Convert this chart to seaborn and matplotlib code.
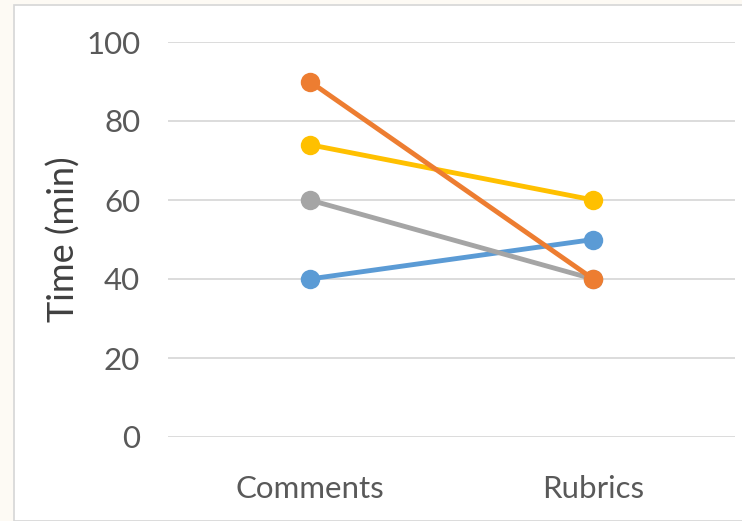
import matplotlib
matplotlib.use("Agg")
import matplotlib.pyplot as plt
from matplotlib.patches import Rectangle
import pandas as pd
import seaborn as sns

categories = ["Comments", "Rubrics"]
series_names = ["Series 1", "Series 2", "Series 3", "Series 4"]
series_1 = [40, 50]
series_2 = [90, 40]
series_3 = [60, 40]
series_4 = [74, 60]
y_ticks = [0, 20, 40, 60, 80, 100]
colors = ["#5B9BD5", "#ED7D31", "#A5A5A5", "#FFC000"]

rows = []
for name, vals in zip(series_names, [series_1, series_2, series_3, series_4]):
    for cat, v in zip(categories, vals):
        rows.append({"Method": cat, "Time": v, "Series": name})
df = pd.DataFrame(rows)

sns.set_theme(style="white")
plt.rcParams["font.family"] = ["Lato", "DejaVu Sans"]

W, H = 742, 521
fig = plt.figure(figsize=(W / 100, H / 100), dpi=100, facecolor="#fdfaf4")
# chart frame, kept behind the axes
fig.patches.append(Rectangle((14 / W, 0), 1, 1 - 5 / H, transform=fig.transFigure,
                             facecolor="white", edgecolor="#d6d6d6", linewidth=1.2,
                             zorder=-10))

ax = fig.add_axes([168 / W, 1 - 437 / H, (735 - 168) / W, (437 - 42) / H])
ax.set_facecolor("none")
ax.set_zorder(5)

draw_order = ["Series 1", "Series 3", "Series 4", "Series 2"]
palette = dict(zip(series_names, colors))
for name in draw_order:
    sub = df[df["Series"] == name]
    sns.lineplot(data=sub, x="Method", y="Time", color=palette[name], ax=ax,
                 linewidth=3.5, marker="o", markersize=14, markeredgewidth=0,
                 sort=False, zorder=3)

ax.set_xlim(-0.5, 1.5)
ax.set_ylim(0, 100)
ax.set_yticks(y_ticks)
ax.yaxis.grid(True, color="#d9d9d9", linewidth=1.3)
ax.set_axisbelow(True)
for s in ax.spines.values():
    s.set_visible(False)
ax.tick_params(axis="both", length=0, labelsize=22.5, colors="#595959")
ax.tick_params(axis="y", pad=20)
ax.tick_params(axis="x", pad=27)
ax.set_xlabel("")
ax.set_ylabel("Time (min)", fontsize=26, color="#404040", labelpad=4)

fig.savefig("out.png", dpi=100, facecolor=fig.get_facecolor())
